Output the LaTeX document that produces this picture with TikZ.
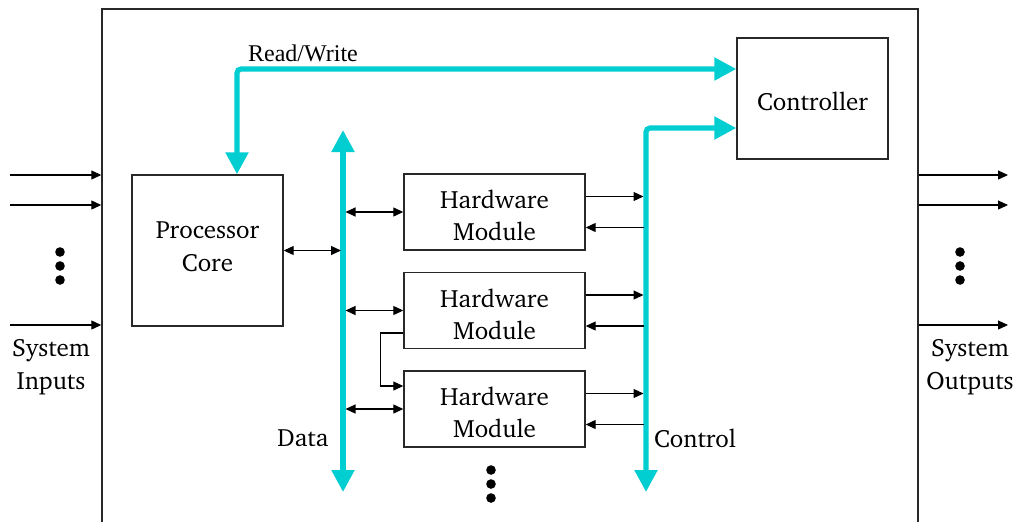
\documentclass[tikz,border=0pt]{standalone}
\usepackage{fontspec}
\usepackage[T1]{fontenc}
\usepackage{charter}
\newfontfamily\rwfont{Liberation Serif}
\usetikzlibrary{arrows.meta,calc}
\definecolor{buscol}{RGB}{0,206,209}
\definecolor{edge}{RGB}{40,40,40}
\tikzset{
  blk/.style={draw=edge, line width=0.7pt, inner sep=0pt},
  bus/.style={draw=buscol, line width=2.6pt, rounded corners=2pt,
    {Triangle[length=11pt,width=11pt]}-{Triangle[length=11pt,width=11pt]}},
  sig/.style={draw=black, line width=0.6pt},
  tip/.style={-{Triangle[length=5pt,width=4.5pt]}},
  tips/.style={{Triangle[length=5pt,width=4.5pt]}-{Triangle[length=5pt,width=4.5pt]}},
  lbl/.style={inner sep=0pt, align=center, font=\fontsize{12.5}{16.2}\selectfont},
  dot/.style={fill=black}
}
\begin{document}
\begin{tikzpicture}[x=0.5pt,y=-0.5pt]
\useasboundingbox (0,0) rectangle (1016,521);

% enclosing system frame (open towards the bottom edge)
\node[draw=edge, line width=0.7pt, minimum width=408pt, minimum height=280pt, inner sep=0pt] (sys) at (510,289) {};

% blocks, each with its caption centred inside
\node[blk, minimum width=75.5pt, minimum height=60.5pt,
  label={[lbl,yshift=-1.3pt]center:Controller}] (ctrl) at (812.5,98.5) {};
\node[blk, minimum width=75.5pt, minimum height=75.5pt,
  label={[lbl,yshift=2pt]center:Processor\\Core}] (proc) at (207.5,250.5) {};
\node[blk, minimum width=90.5pt, minimum height=38pt,
  label={[lbl,yshift=-1.8pt]center:Hardware\\Module}] (hw1) at (494.5,212) {};
\node[blk, minimum width=90.5pt, minimum height=38pt,
  label={[lbl,yshift=-1.8pt]center:Hardware\\Module}] (hw2) at (494.5,310.5) {};
\node[blk, minimum width=90.5pt, minimum height=38pt,
  label={[lbl,yshift=-1.8pt]center:Hardware\\Module}] (hw3) at (494.5,409) {};

% bus reference points
\coordinate (rw) at (237,69);
\coordinate (dtop) at (343,130);
\coordinate (dbot) at (343,492);
\coordinate (dL) at (341,0);
\coordinate (dR) at (345.5,0);
\coordinate (ctop) at (646,128);
\coordinate (cbot) at (646,492);
\coordinate (cL) at (643.5,0);

% thick buses
\draw[bus] (proc.north -| rw) |- (ctrl.west |- rw);
\draw[bus] (dbot) -- (dtop);
\draw[bus] (cbot) |- (ctrl.west |- ctop);

% data bus links
\draw[sig,tips] (proc.east) -- (proc.east -| dL);
\draw[sig,tips] (hw1.west -| dR) -- (hw1.west);
\draw[sig,tips] (hw2.west -| dR) -- (hw2.west);
\draw[sig,tips] (hw3.west -| dR) -- (hw3.west);

% control bus links
\foreach \m in {hw1,hw2,hw3}{
  \draw[sig,tip] ($(\m.east)+(0,-15.5)$) -- ($(\m.east -| cL)+(0,-15.5)$);
  \draw[sig,tip] ($(\m.east -| cL)+(0,15.5)$) -- ($(\m.east)+(0,15.5)$);
}

% module chaining
\draw[sig,tip] ($(hw2.west)+(0,22.5)$) -- ++(-23,0) |- ($(hw3.west)+(0,-23)$);

% system inputs
\coordinate (in1) at (10,175);
\coordinate (in2) at (10,205);
\coordinate (in3) at (10,325);
\foreach \p in {in1,in2,in3}{ \draw[sig,tip] (\p) -- (\p -| sys.west); }
% system outputs
\coordinate (out1) at (1008,175);
\coordinate (out2) at (1008,205);
\coordinate (out3) at (1008,325);
\foreach \p in {out1,out2,out3}{ \draw[sig,tip] (\p -| sys.east) -- (\p); }

% ellipsis dots
\foreach \y in {252,266,280}{
  \fill[dot] (60,\y) circle[radius=2.4pt];
  \fill[dot] (960,\y) circle[radius=2.4pt];
}
\foreach \y in {470,484,498}{ \fill[dot] (491,\y) circle[radius=2.4pt]; }

% labels
\node[lbl] (inlbl) at (51,367) {System\\Inputs};
\node[lbl] (outlbl) at (970,367) {System\\Outputs};
\node[lbl] (datalbl) at (303,438) {Data};
\node[lbl] (ctllbl) at (695,438) {Control};
\node[inner sep=0pt, font=\rwfont\fontsize{12}{14}\selectfont] (rwlbl) at (303,53) {Read/Write};
\end{tikzpicture}
\end{document}
